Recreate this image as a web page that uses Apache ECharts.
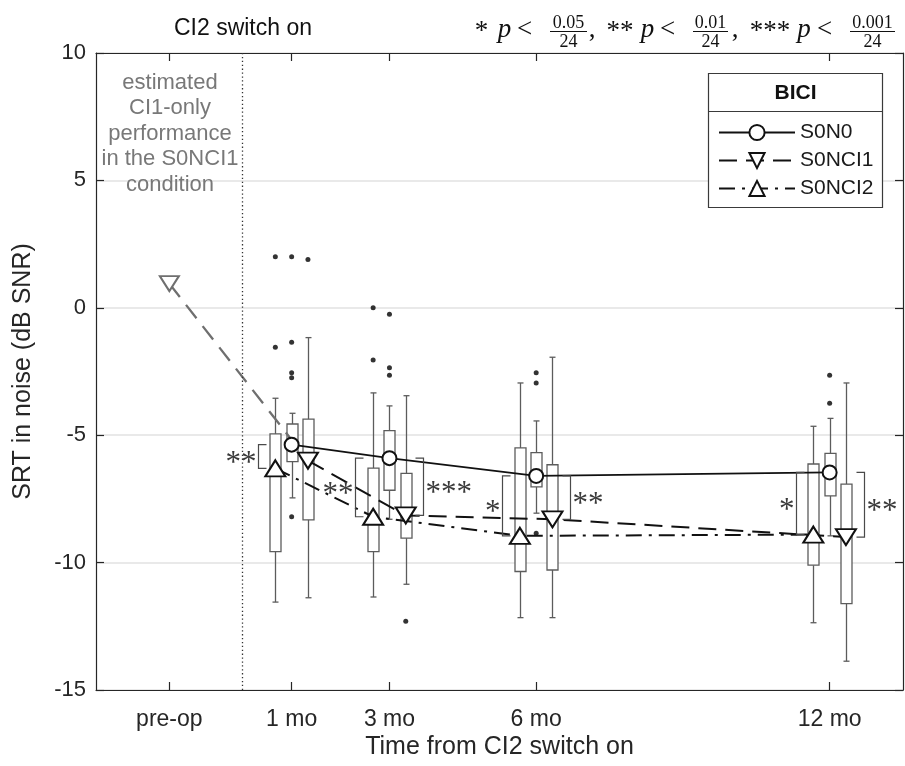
<!DOCTYPE html>
<html>
<head>
<meta charset="utf-8">
<script src="https://cdn.jsdelivr.net/npm/echarts@6/dist/echarts.min.js"></script>
<style>
  html, body { margin: 0; padding: 0; background: #fff; }
  #chart { width: 905px; height: 766px; }
</style>
</head>
<body>
<div id="chart"></div>
<script>
// ---- data -------------------------------------------------------------
// visits in months after CI2 switch-on; pre-op sits before month 0
const visitMonths = [1, 3, 6, 12];
const tickMonths = [-1.5, 1, 3, 6, 12];
const tickLabels = ['pre-op', '1 mo', '3 mo', '6 mo', '12 mo'];

// box statistics per visit: [lower whisker, Q1, median, Q3, upper whisker]
const boxS0N0 = [
  [-7.46, -6.04, -5.37, -4.56, -4.14],
  [-8.30, -7.16, -5.90, -4.82, -3.85],
  [-8.06, -7.03, -6.60, -5.68, -4.44],
  [-8.95, -7.38, -6.46, -5.71, -4.34]
];
const boxS0NCI1 = [
  [-11.38, -8.32, -6.00, -4.37, -1.17],
  [-10.85, -9.04, -8.15, -6.50, -3.45],
  [-12.16, -10.29, -8.30, -6.16, -1.94],
  [-13.87, -11.61, -9.00, -6.92, -2.95]
];
const boxS0NCI2 = [
  [-11.55, -9.57, -6.30, -4.95, -3.55],
  [-11.35, -9.57, -8.20, -6.29, -3.34],
  [-12.16, -10.35, -8.95, -5.50, -2.95],
  [-12.36, -10.10, -8.90, -6.13, -4.65]
];

// outliers per visit
const outS0N0 = [[2.0, -1.35, -2.55, -2.75, -8.2], [-0.25, -2.35, -2.65], [-2.55, -2.95, -8.85], [-2.65, -3.75]];
const outS0NCI1 = [[1.9], [-12.3], [], []];
const outS0NCI2 = [[2.0, -1.55], [0.0, -2.05], [], []];

// estimated CI1-only score in S0NCI1 before the second implant
const preOpS0NCI1 = 0.95;

// paired comparisons against S0N0 at each visit
const sigMonths = [1, 3, 3, 6, 6, 12, 12];
const sigAgainst = ['S0NCI2', 'S0NCI2', 'S0NCI1', 'S0NCI2', 'S0NCI1', 'S0NCI2', 'S0NCI1'];
const sigStars = ['**', '**', '***', '*', '**', '*', '**'];

// ---- helpers ----------------------------------------------------------
const FONT = '"Liberation Sans", Arial, sans-serif';
const SERIF = '"Liberation Serif", "DejaVu Serif", serif';
const INK = '#262626';
const BOXINK = '#5c5c5c';
const conditionShift = { S0NCI2: -1 / 3, S0N0: 0, S0NCI1: 1 / 3 };
const boxes = { S0N0: boxS0N0, S0NCI1: boxS0NCI1, S0NCI2: boxS0NCI2 };
const outliers = { S0N0: outS0N0, S0NCI1: outS0NCI1, S0NCI2: outS0NCI2 };

function boxData(cond) {
  return boxes[cond].map((b, i) => [visitMonths[i] + conditionShift[cond]].concat(b));
}
function medianLine(cond) {
  return boxes[cond].map((b, i) => [visitMonths[i] + conditionShift[cond], b[2]]);
}
const outlierPoints = [];
Object.keys(outliers).forEach(cond => {
  outliers[cond].forEach((vals, i) => {
    vals.forEach(v => outlierPoints.push([visitMonths[i] + conditionShift[cond], v]));
  });
});
const bracketData = sigMonths.map((m, i) => {
  const vi = visitMonths.indexOf(m);
  const side = sigAgainst[i] === 'S0NCI2' ? -1 : 1;
  return [m, side, boxS0N0[vi][2], boxes[sigAgainst[i]][vi][2], sigStars[i]];
});

function renderBox(params, api) {
  const x = api.value(0);
  const lo = api.coord([x, api.value(1)]);
  const q1 = api.coord([x, api.value(2)]);
  const md = api.coord([x, api.value(3)]);
  const q3 = api.coord([x, api.value(4)]);
  const hi = api.coord([x, api.value(5)]);
  const cx = Math.round(lo[0]) + 0.5;
  const hw = 5.5, cw = 3;
  const st = { stroke: BOXINK, lineWidth: 1.3, fill: null };
  return {
    type: 'group',
    children: [
      { type: 'line', shape: { x1: cx, y1: hi[1], x2: cx, y2: q3[1] }, style: st },
      { type: 'line', shape: { x1: cx, y1: q1[1], x2: cx, y2: lo[1] }, style: st },
      { type: 'line', shape: { x1: cx - cw, y1: hi[1], x2: cx + cw, y2: hi[1] }, style: st },
      { type: 'line', shape: { x1: cx - cw, y1: lo[1], x2: cx + cw, y2: lo[1] }, style: st },
      { type: 'rect', shape: { x: cx - hw, y: q3[1], width: hw * 2, height: q1[1] - q3[1] },
        style: { stroke: BOXINK, lineWidth: 1.3, fill: '#fff' } },
      { type: 'line', shape: { x1: cx - hw, y1: md[1], x2: cx + hw, y2: md[1] }, style: st }
    ]
  };
}

function renderBracket(params, api) {
  const m = api.value(0);
  const side = api.value(1);
  const a = api.coord([m, api.value(2)]);
  const b = api.coord([m, api.value(3)]);
  const x = Math.round(a[0] + side * 34) + 0.5;
  const tip = x - side * 8;
  const mid = (a[1] + b[1]) / 2;
  return {
    type: 'group',
    children: [
      { type: 'polyline', shape: { points: [[tip, a[1]], [x, a[1]], [x, b[1]], [tip, b[1]]] },
        style: { stroke: '#4a4a4a', lineWidth: 1.2, fill: null } },
      { type: 'text', x: x + side * 2, y: mid + 7,
        style: { text: api.value(4), fill: '#3a3a3a', font: '31px ' + SERIF,
                 align: side < 0 ? 'right' : 'left', verticalAlign: 'middle' } }
    ]
  };
}

// LaTeX-like significance key in the top right
function keyGraphics() {
  const items = [];
  const mainFont = 'italic 27px ' + SERIF;
  const upFont = '27px ' + SERIF;
  const fracFont = '18px ' + SERIF;
  const put = (t, x, font, y) => items.push({ type: 'text', x: x, y: y,
    style: { text: t, font: font, fill: '#111', align: 'center', verticalAlign: 'middle' } });
  const frac = (num, den, cx, w) => {
    items.push({ type: 'text', x: cx, y: 23, style: { text: num, font: fracFont, fill: '#111', align: 'center', verticalAlign: 'middle' } });
    items.push({ type: 'line', shape: { x1: cx - w / 2, y1: 31.5, x2: cx + w / 2, y2: 31.5 }, style: { stroke: '#111', lineWidth: 1 } });
    items.push({ type: 'text', x: cx, y: 42, style: { text: den, font: fracFont, fill: '#111', align: 'center', verticalAlign: 'middle' } });
  };
  const yMain = 30;
  put('*', 481.5, upFont, yMain + 2); put('p', 504.5, mainFont, yMain); put('<', 524.5, upFont, yMain);
  frac('0.05', '24', 568.5, 37); put(',', 592, upFont, yMain);
  put('**', 620, upFont, yMain + 2); put('p', 647.5, mainFont, yMain); put('<', 667.5, upFont, yMain);
  frac('0.01', '24', 710.5, 35); put(',', 735, upFont, yMain);
  put('***', 770, upFont, yMain + 2); put('p', 804, mainFont, yMain); put('<', 824.5, upFont, yMain);
  frac('0.001', '24', 872.5, 45);
  return items;
}

const chart = echarts.init(document.getElementById('chart'), null, { renderer: 'canvas' });

const axisLineStyle = { color: INK, width: 1.2 };
const option = {
  backgroundColor: '#fff',
  animation: false,
  textStyle: { fontFamily: FONT },
  grid: { left: 96, right: 2, top: 53, bottom: 76, containLabel: false, outerBoundsMode: 'none' },
  legend: {
    data: ['S0N0', 'S0NCI1', 'S0NCI2'],
    orient: 'vertical',
    left: 713, top: 117,
    itemWidth: 76, itemHeight: 19, itemGap: 7,
    textStyle: { fontSize: 21, color: '#1a1a1a', fontFamily: FONT },
    selectedMode: false,
    z: 6
  },
  xAxis: [{
    type: 'value', min: -3, max: 13.5, position: 'bottom',
    axisLine: { show: true, onZero: false, lineStyle: axisLineStyle },
    axisTick: { show: true, inside: true, length: 8, customValues: tickMonths, lineStyle: axisLineStyle },
    axisLabel: { show: true, customValues: tickMonths, margin: 18, fontSize: 23, color: INK, fontFamily: FONT,
      formatter: v => { const i = tickMonths.indexOf(v); return i >= 0 ? tickLabels[i] : ''; } },
    splitLine: { show: false },
    name: 'Time from CI2 switch on', nameLocation: 'middle', nameGap: 45, nameMoveOverlap: false,
    nameTextStyle: { fontSize: 25, color: INK, fontFamily: FONT }
  }, {
    type: 'value', min: -3, max: 13.5, position: 'top',
    axisLine: { show: true, onZero: false, lineStyle: axisLineStyle },
    axisTick: { show: true, inside: true, length: 8, customValues: tickMonths, lineStyle: axisLineStyle },
    axisLabel: { show: false }, splitLine: { show: false }
  }],
  yAxis: [{
    type: 'value', min: -15, max: 10, interval: 5, position: 'left',
    axisLine: { show: true, onZero: false, lineStyle: axisLineStyle },
    axisTick: { show: true, inside: true, length: 8, lineStyle: axisLineStyle },
    axisLabel: { margin: 10, fontSize: 22, color: INK, fontFamily: FONT },
    splitLine: { show: true, lineStyle: { color: '#e2e2e2', width: 1.5 } },
    name: 'SRT in noise (dB SNR)', nameLocation: 'middle', nameGap: 60, nameMoveOverlap: false,
    nameTextStyle: { fontSize: 25, color: INK, fontFamily: FONT }
  }, {
    type: 'value', min: -15, max: 10, interval: 5, position: 'right',
    axisLine: { show: true, onZero: false, lineStyle: axisLineStyle },
    axisTick: { show: true, inside: true, length: 8, lineStyle: axisLineStyle },
    axisLabel: { show: false }, splitLine: { show: false }
  }],
  graphic: [
    { type: 'rect', z: 4, shape: { x: 708.5, y: 73.5, width: 174, height: 134 },
      style: { fill: '#fff', stroke: '#3a3a3a', lineWidth: 1.2 } },
    { type: 'line', z: 4, shape: { x1: 708.5, y1: 111.5, x2: 882.5, y2: 111.5 },
      style: { stroke: '#3a3a3a', lineWidth: 1.2 } },
    { type: 'text', z: 5, x: 795.5, y: 93,
      style: { text: 'BICI', font: 'bold 21px ' + FONT, fill: '#111', align: 'center', verticalAlign: 'middle' } },
    { type: 'text', z: 5, x: 243, y: 29,
      style: { text: 'CI2 switch on', font: '23px ' + FONT, fill: '#111', align: 'center', verticalAlign: 'middle' } },
    { type: 'text', z: 5, x: 170, y: 70,
      style: { text: 'estimated\nCI1-only\nperformance\nin the S0NCI1\ncondition', font: '22px ' + FONT,
               lineHeight: 25.5, fill: '#787878', align: 'center', verticalAlign: 'top' } }
  ].concat(keyGraphics().map(g => Object.assign({ z: 5 }, g))),
  series: [
    { name: 'S0NCI2 boxes', type: 'custom', renderItem: renderBox, data: boxData('S0NCI2'), z: 1, silent: true,
      encode: { x: 0, y: [1, 2, 3, 4, 5] } },
    { name: 'S0N0 boxes', type: 'custom', renderItem: renderBox, data: boxData('S0N0'), z: 1, silent: true,
      encode: { x: 0, y: [1, 2, 3, 4, 5] } },
    { name: 'S0NCI1 boxes', type: 'custom', renderItem: renderBox, data: boxData('S0NCI1'), z: 1, silent: true,
      encode: { x: 0, y: [1, 2, 3, 4, 5] } },
    { name: 'outliers', type: 'scatter', data: outlierPoints, symbol: 'circle', symbolSize: 5,
      itemStyle: { color: '#000' }, z: 2, silent: true },
    { name: 'switch-on', type: 'line', data: [], silent: true,
      markLine: { silent: true, symbol: 'none', label: { show: false },
        lineStyle: { color: '#333', width: 1.3, type: [1.3, 2.6] }, data: [{ xAxis: 0 }] } },
    { name: 'pre-op S0NCI1', type: 'line',
      data: [{ value: [-1.5, preOpS0NCI1], symbol: 'emptyTriangle', symbolRotate: 180 },
             { value: medianLine('S0NCI1')[0], symbol: 'none' }],
      symbolSize: [19, 15],
      lineStyle: { color: '#6f6f6f', width: 2.3, type: [17, 10] },
      itemStyle: { color: '#6f6f6f', borderWidth: 2 }, z: 3, silent: true },
    { name: 'S0N0', type: 'line', data: medianLine('S0N0'), symbol: 'emptyCircle', symbolSize: 14,
      lineStyle: { color: '#111', width: 1.8, type: 'solid' },
      itemStyle: { color: '#111', borderWidth: 2 }, z: 4, silent: true },
    { name: 'S0NCI1', type: 'line', data: medianLine('S0NCI1'), symbol: 'emptyTriangle', symbolRotate: 180,
      symbolSize: [20, 16],
      lineStyle: { color: '#111', width: 2, type: [18, 9] },
      itemStyle: { color: '#111', borderWidth: 2.2 }, z: 4, silent: true },
    { name: 'S0NCI2', type: 'line', data: medianLine('S0NCI2'), symbol: 'emptyTriangle',
      symbolSize: [20, 16],
      lineStyle: { color: '#111', width: 2, type: [16, 7, 3, 7] },
      itemStyle: { color: '#111', borderWidth: 2.2 }, z: 4, silent: true },
    { name: 'significance', type: 'custom', renderItem: renderBracket, data: bracketData, z: 5, silent: true,
      encode: { x: 0, y: [2, 3] } }
  ]
};
chart.setOption(option);
</script>
</body>
</html>
